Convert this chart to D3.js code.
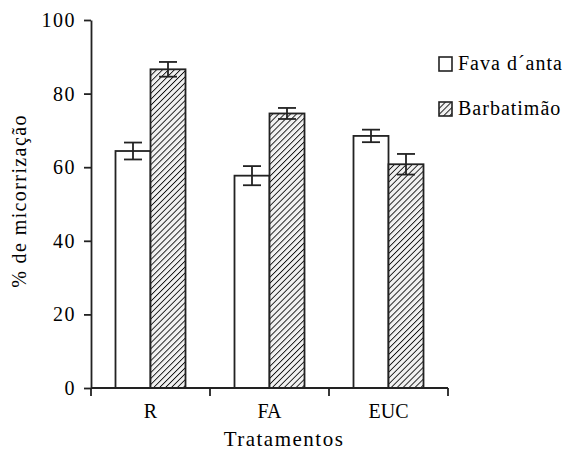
<!DOCTYPE html>
<html>
<head>
<meta charset="utf-8">
<script src="https://cdn.jsdelivr.net/npm/d3@7"></script>
<style>
  body { margin: 0; background: #fff; }
</style>
</head>
<body>
<svg width="566" height="450"></svg>
<script>
const categories = ['R', 'FA', 'EUC'];
const seriesNames = ['Fava d´anta', 'Barbatimão'];
const favaValues = [64.4, 57.7, 68.5];
const favaErrors = [2.3, 2.6, 1.7];
const barbValues = [86.6, 74.6, 60.8];
const barbErrors = [2.0, 1.5, 2.8];
const yTicks = [0, 20, 40, 60, 80, 100];

const svg = d3.select('svg');
const serif = '"Liberation Serif"';

const plotLeft = 91;
const plotRight = 448;
const plotTop = 20;
const plotBottom = 388;

// pattern for the hatched series
const defs = svg.append('defs');
const pat = defs.append('pattern')
    .attr('id', 'hatch')
    .attr('patternUnits', 'userSpaceOnUse')
    .attr('width', 4.2)
    .attr('height', 4.2)
    .attr('patternTransform', 'rotate(45)');
pat.append('rect')
    .attr('width', 4.2).attr('height', 4.2)
    .attr('fill', '#f2f2f2');
pat.append('line')
    .attr('x1', 0).attr('y1', 0)
    .attr('x2', 0).attr('y2', 4.2)
    .attr('stroke', '#111')
    .attr('stroke-width', 1.8);

const x = d3.scaleBand()
    .domain(categories)
    .range([plotLeft, plotRight]);

const xInner = d3.scaleBand()
    .domain(seriesNames)
    .range([0, 70]);

const y = d3.scaleLinear()
    .domain([0, 100])
    .range([plotBottom, plotTop]);

const data = categories.map((c, i) => [
    { cat: c, series: seriesNames[0], value: favaValues[i], err: favaErrors[i] },
    { cat: c, series: seriesNames[1], value: barbValues[i], err: barbErrors[i] }
]).flat();

const fillFor = s => s === seriesNames[0] ? '#fff' : 'url(#hatch)';
const offset = (x.bandwidth() - 70) / 2;

// bars
svg.append('g')
    .selectAll('rect')
    .data(data)
    .join('rect')
        .attr('x', d => x(d.cat) + offset + xInner(d.series))
        .attr('y', d => y(d.value))
        .attr('width', xInner.bandwidth())
        .attr('height', d => y(0) - y(d.value))
        .attr('fill', d => fillFor(d.series))
        .attr('stroke', '#222')
        .attr('stroke-width', 1.8);

// error bars
const errG = svg.append('g')
    .attr('stroke', '#222')
    .attr('stroke-width', 1.8);
const cx = d => x(d.cat) + offset + xInner(d.series) + xInner.bandwidth() / 2;
errG.selectAll('.stem')
    .data(data)
    .join('line')
        .attr('class', 'stem')
        .attr('x1', cx).attr('x2', cx)
        .attr('y1', d => y(d.value + d.err))
        .attr('y2', d => y(d.value - d.err));
errG.selectAll('.capTop')
    .data(data)
    .join('line')
        .attr('class', 'capTop')
        .attr('x1', d => cx(d) - 9).attr('x2', d => cx(d) + 9)
        .attr('y1', d => y(d.value + d.err))
        .attr('y2', d => y(d.value + d.err));
errG.selectAll('.capBot')
    .data(data)
    .join('line')
        .attr('class', 'capBot')
        .attr('x1', d => cx(d) - 9).attr('x2', d => cx(d) + 9)
        .attr('y1', d => y(d.value - d.err))
        .attr('y2', d => y(d.value - d.err));

// y axis
const yAxis = svg.append('g')
    .attr('transform', `translate(${plotLeft},0)`)
    .call(d3.axisLeft(y).tickValues(yTicks).tickSize(7).tickSizeOuter(0).tickPadding(8));
yAxis.attr('font-family', serif).attr('font-size', 20);

// x axis, ticks at the band edges
const edges = categories.map(c => x(c)).concat([plotRight]);
const xAxis = svg.append('g')
    .attr('transform', `translate(0,${plotBottom})`);
xAxis.append('line')
    .attr('x1', plotLeft).attr('x2', plotRight)
    .attr('stroke', '#222').attr('stroke-width', 1.8);
xAxis.selectAll('.edge')
    .data(edges)
    .join('line')
        .attr('class', 'edge')
        .attr('x1', d => d).attr('x2', d => d)
        .attr('y1', 0).attr('y2', 8)
        .attr('stroke', '#222').attr('stroke-width', 1.8);
xAxis.selectAll('text')
    .data(categories)
    .join('text')
        .attr('x', d => x(d) + x.bandwidth() / 2)
        .attr('y', 30)
        .attr('text-anchor', 'middle')
        .style('font-family', serif)
        .style('font-size', '20px')
        .text(d => d);

yAxis.select('.domain').attr('stroke', '#222').attr('stroke-width', 1.8);
yAxis.selectAll('.tick line').attr('stroke', '#222').attr('stroke-width', 1.8);
yAxis.selectAll('.tick text')
    .style('font-family', serif)
    .style('font-size', '20px')
    .style('letter-spacing', '1.5px')
    .attr('fill', '#000');

// axis titles
svg.append('text')
    .attr('x', 284)
    .attr('y', 446)
    .attr('text-anchor', 'middle')
    .style('font-family', serif)
    .style('font-size', '21px')
    .style('letter-spacing', '1.5px')
    .text('Tratamentos');

svg.append('text')
    .attr('transform', 'translate(26,201) rotate(-90)')
    .attr('text-anchor', 'middle')
    .style('font-family', serif)
    .style('font-size', '20px')
    .style('letter-spacing', '1.4px')
    .text('% de micorrização');

// legend
const legend = svg.append('g')
    .selectAll('g')
    .data(seriesNames)
    .join('g')
        .attr('transform', (d, i) => `translate(439,${57 + i * 45})`);
legend.append('rect')
    .attr('width', 13)
    .attr('height', 14)
    .attr('fill', d => fillFor(d))
    .attr('stroke', '#222')
    .attr('stroke-width', 1.6);
legend.append('text')
    .attr('x', 19)
    .attr('y', 13)
    .style('font-family', serif)
    .style('font-size', '20px')
    .style('letter-spacing', '1px')
    .text(d => d);
</script>
</body>
</html>
